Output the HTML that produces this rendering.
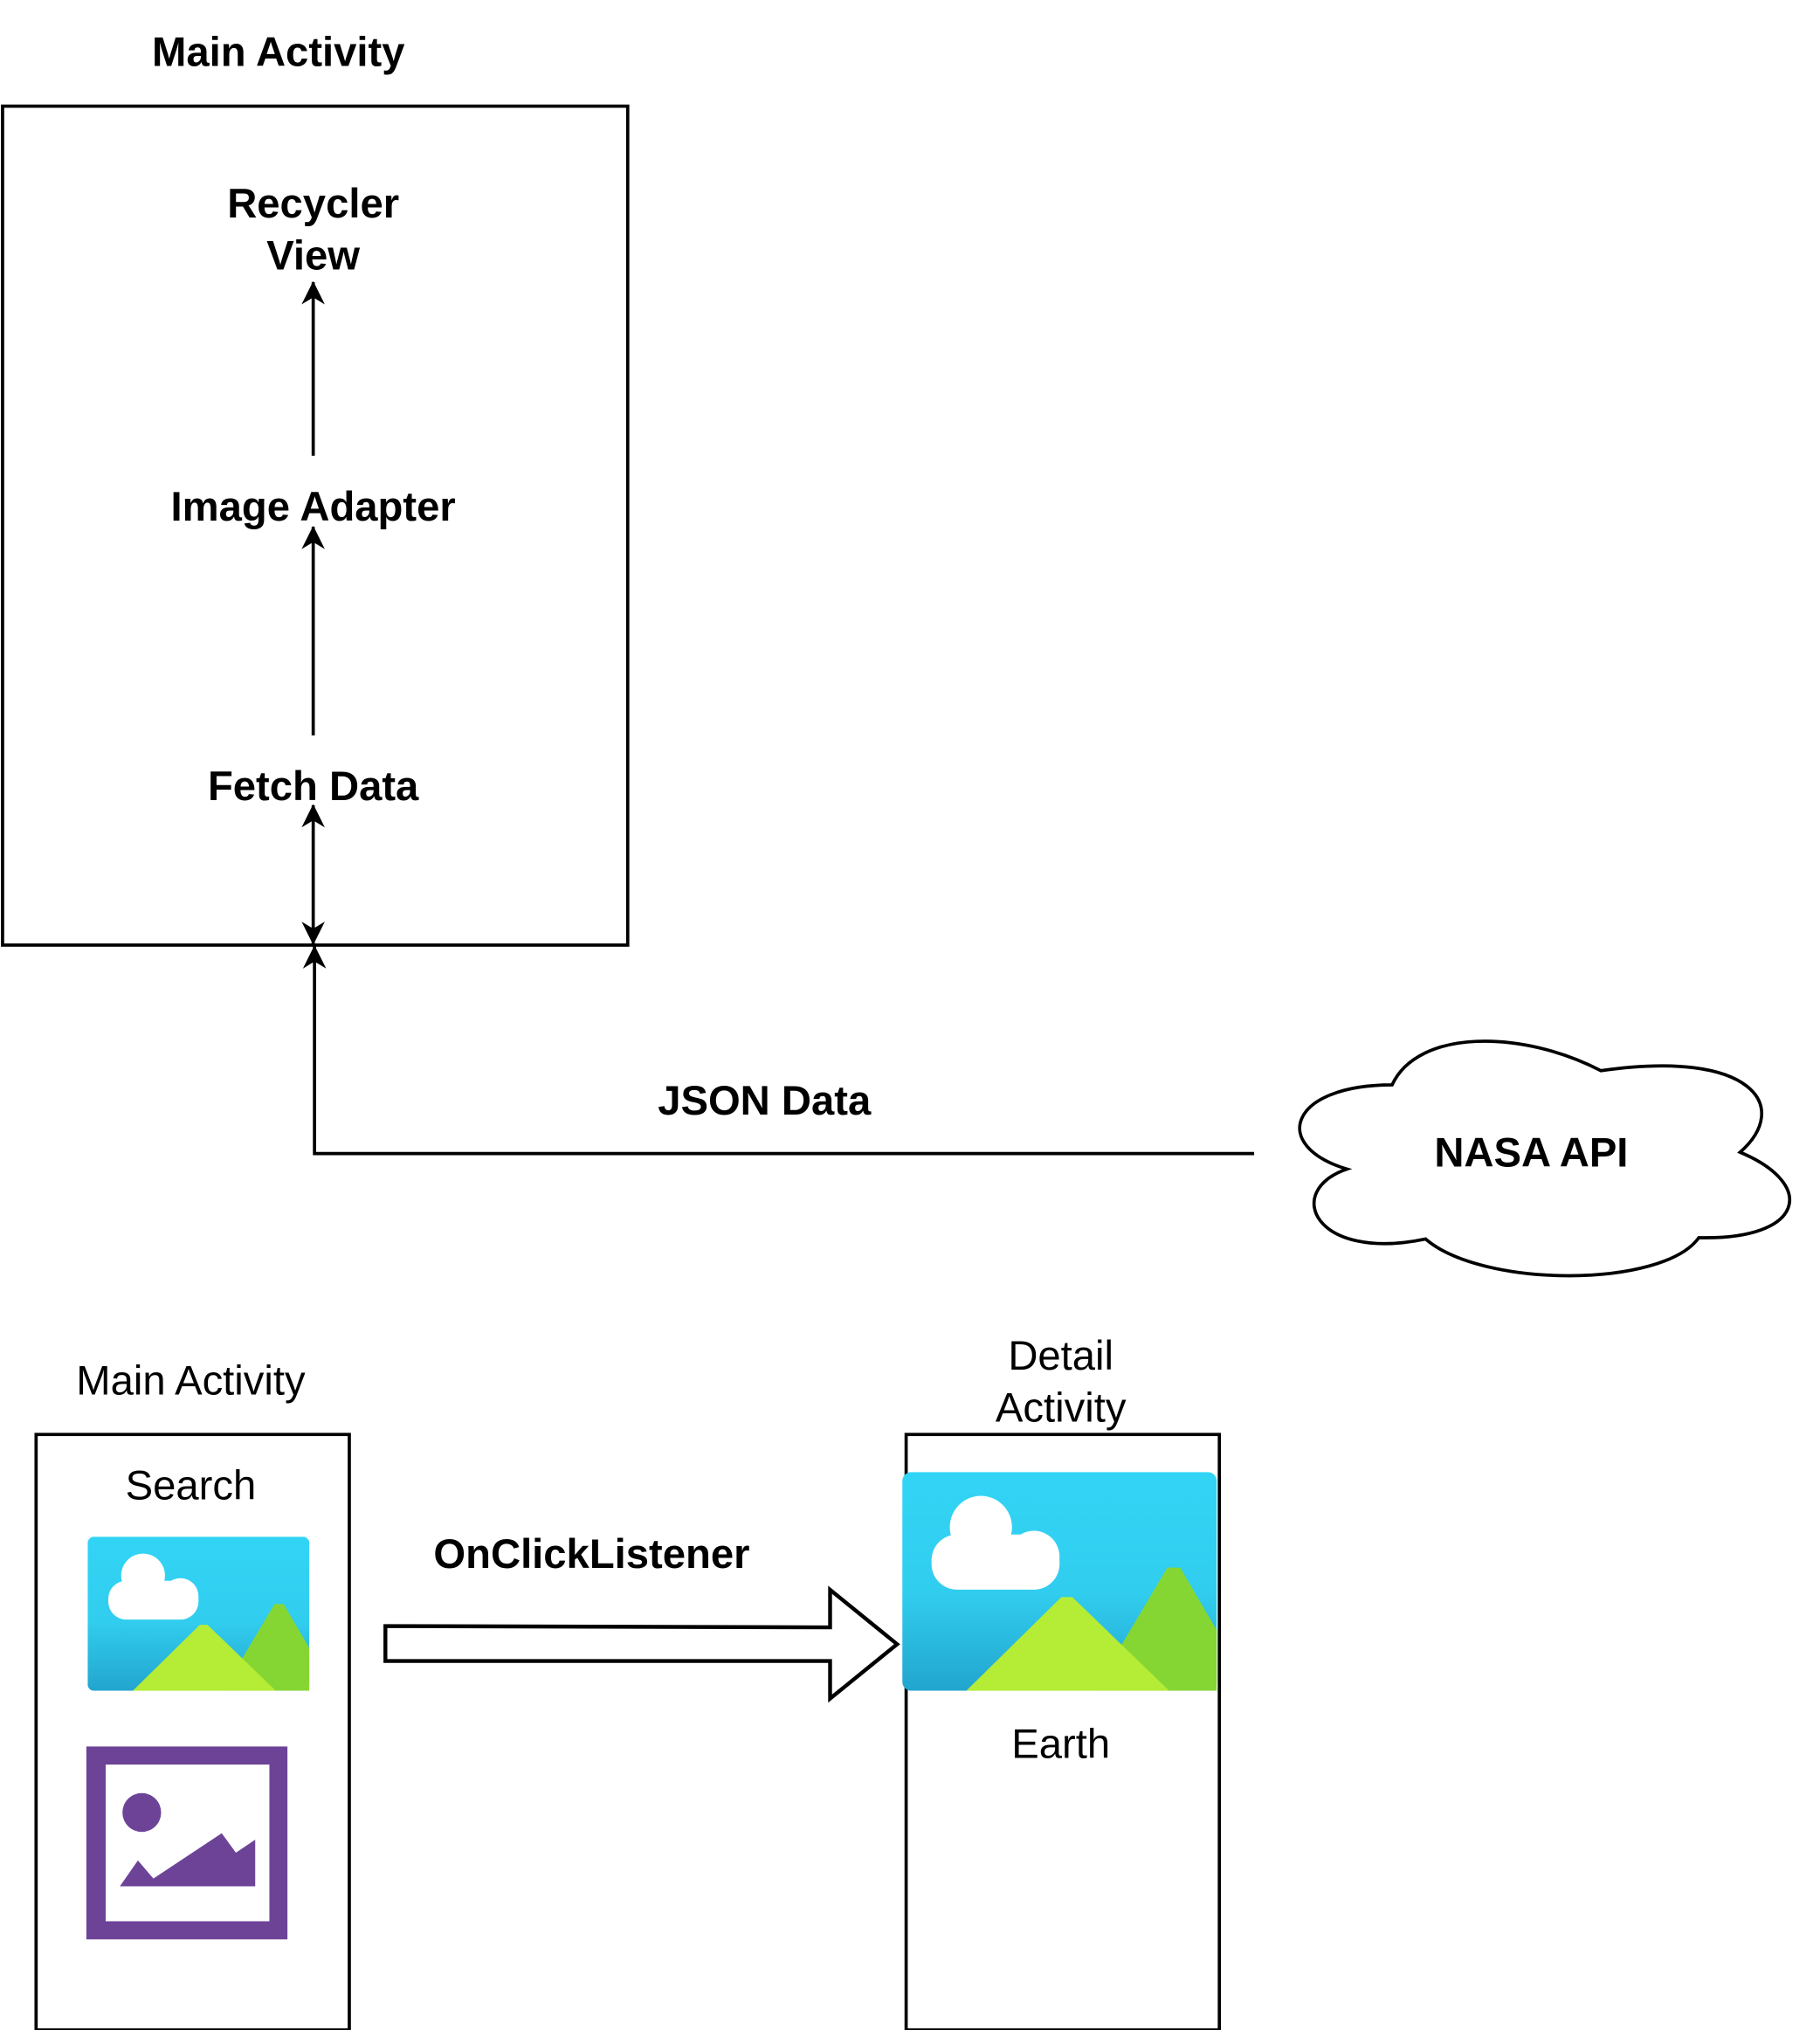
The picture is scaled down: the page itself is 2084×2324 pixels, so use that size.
<!DOCTYPE html>
<html><head><meta charset="utf-8"><style>html,body{margin:0;padding:0;background:#fff}svg{display:block}</style></head>
<body>
<svg width="2084" height="2324" viewBox="0 0 1412 1568" preserveAspectRatio="none" xmlns="http://www.w3.org/2000/svg" font-family="Liberation Sans, Arial, sans-serif">
<defs>
<linearGradient id="sky" x1="0" y1="0" x2="0" y2="1">
<stop offset="0" stop-color="#32D4F5"/><stop offset="0.55" stop-color="#31CDEF"/><stop offset="1" stop-color="#22A5CF"/>
</linearGradient>
<marker id="ah" viewBox="0 0 10 10" refX="9.5" refY="5" markerWidth="22" markerHeight="18" markerUnits="userSpaceOnUse" orient="auto">
<path d="M0,0 L10,5 L0,10 L3,5 Z" fill="#000"/></marker>
</defs>
<g fill="none" stroke="#000" stroke-width="2.5">
<rect x="2" y="82" width="485" height="648"/>
<line x1="243" y1="352" x2="243" y2="218" marker-end="url(#ah)"/>
<line x1="243" y1="568" x2="243" y2="407" marker-end="url(#ah)"/>
<line x1="243" y1="670" x2="243" y2="622" marker-end="url(#ah)"/>
<line x1="243" y1="670" x2="243" y2="729" marker-end="url(#ah)"/>
<polyline points="973,891 244,891 244,731" marker-end="url(#ah)"/>
<path d="M1080,838 C1000,838 985,885 1045,903 C995,920 1020,975 1106,957 C1150,995 1290,995 1318,956 C1400,958 1410,915 1350,890 C1390,855 1360,810 1242,827 C1180,795 1100,795 1080,838 Z" fill="#fff"/>
<rect x="28" y="1108" width="243" height="460"/>
<rect x="703" y="1108" width="243" height="460"/>
<path d="M299,1256 L644,1257 L644,1228 L696,1270 L644,1312 L644,1283 L299,1283 Z" fill="#fff" stroke-width="3"/>
</g>
<g font-weight="bold" font-size="32" text-anchor="middle" fill="#000">
<text x="216" y="51">Main Activity</text>
<text x="243" y="168">Recycler</text>
<text x="243" y="208">View</text>
<text x="243" y="402">Image Adapter</text>
<text x="243" y="618">Fetch Data</text>
<text x="593" y="861">JSON Data</text>
<text x="1188" y="901">NASA API</text>
<text x="459" y="1211">OnClickListener</text>
</g>
<g font-size="32" text-anchor="middle" fill="#000">
<text x="148" y="1077">Main Activity</text>
<text x="148" y="1158">Search</text>
<text x="823" y="1058">Detail</text>
<text x="823" y="1098">Activity</text>
<text x="823" y="1358">Earth</text>
</g>
<svg x="68" y="1187" width="172" height="119" viewBox="0 0 172 119" preserveAspectRatio="none">
<rect width="172" height="119" rx="5" fill="url(#sky)"/>
<polygon points="105,119 145,52 152,52 172,86 172,119" fill="#86D633"/>
<polygon points="35,119 87,68 93,68 146,119" fill="#B4EC36"/>
<circle cx="43" cy="30" r="17" fill="#fff"/>
<circle cx="72" cy="46" r="14" fill="#fff"/>
<rect x="16" y="34" width="70" height="30" rx="14" fill="#fff"/>
</svg>
<svg x="700" y="1137" width="244" height="169" viewBox="0 0 172 119" preserveAspectRatio="none">
<rect width="172" height="119" rx="5" fill="url(#sky)"/>
<polygon points="105,119 145,52 152,52 172,86 172,119" fill="#86D633"/>
<polygon points="35,119 87,68 93,68 146,119" fill="#B4EC36"/>
<circle cx="43" cy="30" r="17" fill="#fff"/>
<circle cx="72" cy="46" r="14" fill="#fff"/>
<rect x="16" y="34" width="70" height="30" rx="14" fill="#fff"/>
</svg>
<rect x="67" y="1349" width="156" height="149" fill="#6D4398"/>
<rect x="82" y="1363" width="127" height="121" fill="#fff"/>
<ellipse cx="110" cy="1400" rx="15" ry="15" fill="#6D4398"/>
<polygon points="93,1457 107,1437 119,1451 172,1416 183,1431 198,1421 198,1457" fill="#6D4398"/>
</svg>
</body></html>
